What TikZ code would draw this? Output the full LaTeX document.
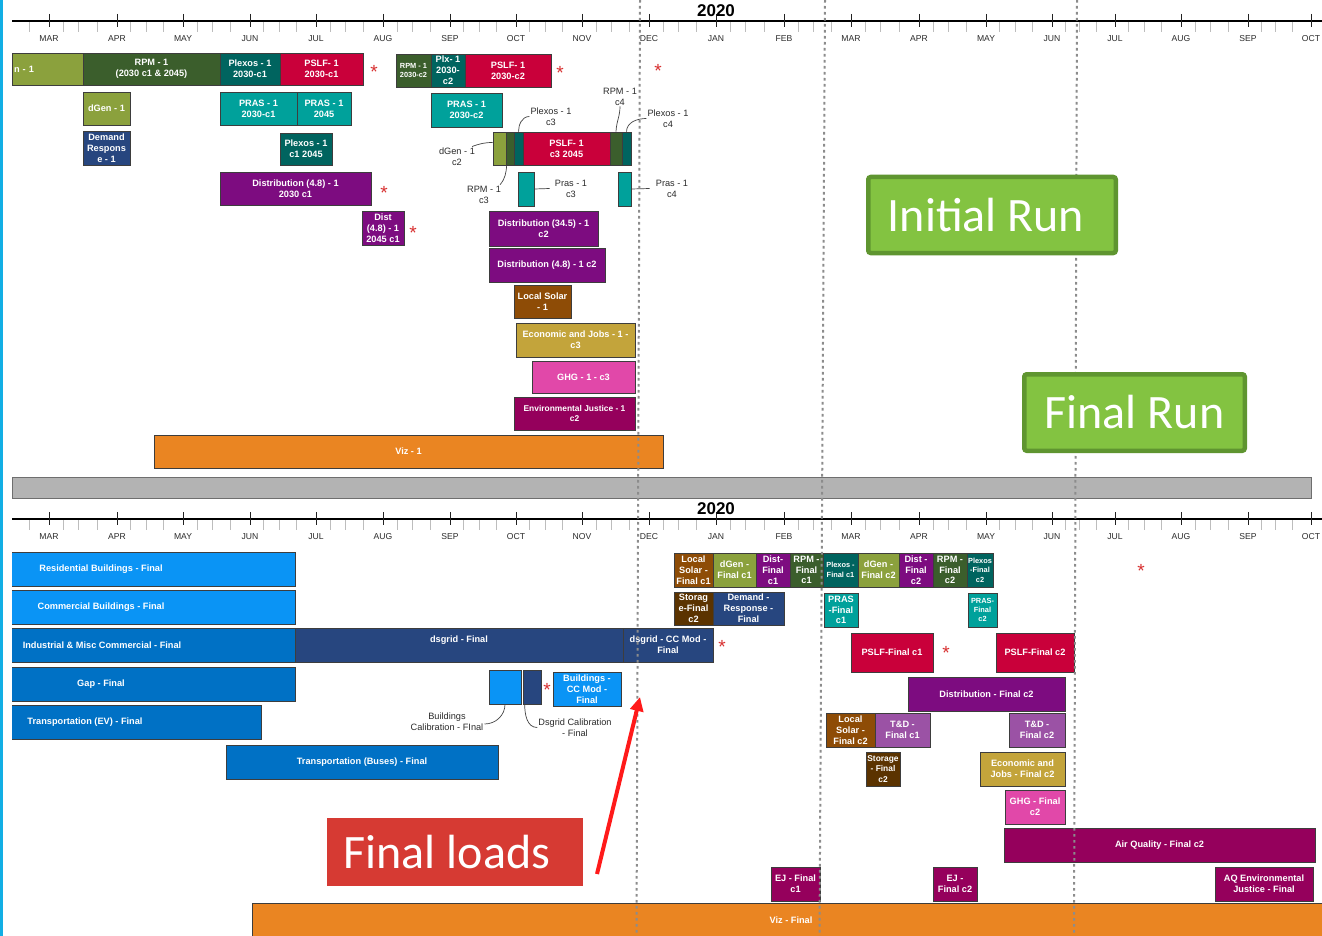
\documentclass[tikz,border=0pt]{standalone}
\usepackage{fontspec}
\setmainfont{Liberation Sans}
\newfontfamily\carl{Carlito}
\usetikzlibrary{arrows.meta,shadows}
\definecolor{cOlive}{HTML}{8BA13D}
\definecolor{cDkGreen}{HTML}{3B5E2C}
\definecolor{cDkTeal}{HTML}{00645F}
\definecolor{cTeal}{HTML}{00A19B}
\definecolor{cRed}{HTML}{C9003A}
\definecolor{cPurple}{HTML}{7D0C80}
\definecolor{cNavy}{HTML}{27467F}
\definecolor{cBrown}{HTML}{8E4C06}
\definecolor{cDkBrown}{HTML}{5B3300}
\definecolor{cGold}{HTML}{C3A43B}
\definecolor{cPink}{HTML}{E148A9}
\definecolor{cMag}{HTML}{95005C}
\definecolor{cLav}{HTML}{9B52A5}
\definecolor{cOrange}{HTML}{EA8522}
\definecolor{cBBlue}{HTML}{0A94F5}
\definecolor{cMBlue}{HTML}{0071C5}
\definecolor{cBand}{HTML}{B3B3B3}
\definecolor{cBandEdge}{HTML}{6E6E6E}
\definecolor{cRunFill}{HTML}{83C341}
\definecolor{cRunDraw}{HTML}{5F9530}
\definecolor{cLoads}{HTML}{D63A33}
\definecolor{cStar}{HTML}{D83030}
\definecolor{cCyan}{HTML}{12AEE4}
\definecolor{cDot}{HTML}{8C8C8C}
\definecolor{cEdge}{HTML}{3D3D3D}
\definecolor{cTxt}{HTML}{2B2B2B}
\definecolor{cLine}{HTML}{444444}
\definecolor{cTick}{HTML}{222222}
\definecolor{cMinTick}{HTML}{BDBDBD}
\definecolor{cArrow}{HTML}{FF1A1A}
\tikzset{
 tbox/.style={draw=cEdge,line width=0.6pt,inner sep=0.5pt,align=center,text=white,
   font=\bfseries\fontsize{9.2}{10.8}\selectfont,
   drop shadow={shadow xshift=0.8pt,shadow yshift=-1pt,opacity=0.3,fill=black}},
 sm/.style={font=\bfseries\fontsize{7.4}{9.4}\selectfont},
 smb/.style={font=\bfseries\fontsize{8.4}{10.4}\selectfont},
 clabel/.style={text=cTxt,font=\fontsize{9.2}{10.8}\selectfont,align=center,inner sep=1pt},
 cline/.style={draw=cLine,line width=0.7pt},
 rstar/.style={text=cStar,font=\fontsize{19}{19}\selectfont,inner sep=0pt,anchor=north},
 month/.style={text=cTxt,font=\fontsize{8.6}{10}\selectfont,inner sep=0pt},
 year/.style={font=\bfseries\fontsize{17}{17}\selectfont,inner sep=0pt},
 runbox/.style={fill=cRunFill,draw=cRunDraw,line width=4.5pt,rounded corners=2.5pt,text=white,
   font=\carl\fontsize{48}{50}\selectfont,inner sep=0pt},
 dotline/.style={draw=cDot,line width=2pt,dash pattern=on 2.6pt off 3.4pt},
 majtick/.style={draw=cTick,line width=0.9pt},
 mintick/.style={draw=cMinTick,line width=0.9pt},
}
\newcommand\ganttbox[8][]{\node[tbox,fill=#7,minimum width={(#5)-(#3)},minimum height={(#6)-(#4)},#1] (#2) at ({((#3)+(#5))/2},{-((#4)+(#6))/2}) {#8};}
\newcommand\redstar[3]{\node[rstar] (#1) at (#2,{-(#3)+2.8}) {*};}
\newcommand\mytimeline[2]{%
 \draw[line width=2.6pt] (12,{-21-#1}) -- (1322,{-21-#1});
 \foreach \a/\b in {49/117,117/183,183/250,250/316,316/383,383/450,450/516,516/582,582/649,649/716,716/784,784/851,851/919,919/986,986/1052,1052/1115,1115/1181,1181/1248,1248/1311}{
   \foreach \f in {0.21,0.44,0.71}{\draw[mintick] ({\a+\f*(\b-\a)},{-22-#1}) -- ++(0,-10);}}
 \draw[mintick] (29,{-22-#1}) -- ++(0,-10);
 \foreach \x/\m in {49/MAR,117/APR,183/MAY,250/JUN,316/JUL,383/AUG,450/SEP,516/OCT,582/NOV,649/DEC,716/JAN,784/FEB,851/MAR,919/APR,986/MAY,1052/JUN,1115/JUL,1181/AUG,1248/SEP,1311/OCT}{
   \draw[majtick] (\x,{-14-#1}) -- ++(0,-13);
   \node[month] (#2-\x) at (\x,{-39-#1}) {\m};}
}
\begin{document}
\begin{tikzpicture}[x=1pt,y=1pt]
\useasboundingbox (0,0) rectangle (1322,-936);
\fill[white] (0,0) rectangle (1322,-936);
\clip (0,0) rectangle (1322,-936);
\fill[cCyan] (0,0) rectangle (3,-936);

% timelines
\mytimeline{0}{mtop}
\mytimeline{498}{mbot}
\node[year] (yr1) at (716,-11) {2020};
\node[year] (yr2) at (716,-509) {2020};

\begin{scope}
\clip (12,1) rectangle (1330,-940);
% ---------- initial run ----------
\ganttbox[text width=67pt,align=left,inner xsep=2pt]{t01}{12}{53}{83}{85}{cOlive}{n - 1}
\ganttbox{t02}{83}{53}{220}{85}{cDkGreen}{RPM - 1\\(2030 c1 \& 2045)}
\ganttbox{t03}{220}{53}{280}{85}{cDkTeal}{Plexos - 1\\2030-c1}
\ganttbox{t04}{280}{53}{363}{85}{cRed}{PSLF- 1\\2030-c1}
\ganttbox[sm]{t05}{396}{54}{431}{87}{cDkGreen}{RPM - 1\\2030-c2}
\ganttbox{t06}{431}{54}{465}{87}{cDkTeal}{Plx- 1\\2030-\\c2}
\ganttbox{t07}{465}{54}{551}{87}{cRed}{PSLF- 1\\2030-c2}
\ganttbox{t08}{83}{92}{130}{125}{cOlive}{dGen - 1}
\ganttbox{t09}{220}{92}{297}{125}{cTeal}{PRAS - 1\\2030-c1}
\ganttbox{t10}{297}{92}{351}{125}{cTeal}{PRAS - 1\\2045}
\ganttbox{t11}{431}{93}{502}{127}{cTeal}{PRAS - 1\\2030-c2}
\ganttbox{t12}{83}{131}{130}{165}{cNavy}{Demand\\Respons\\e - 1}
\ganttbox{t13}{280}{133}{332}{165}{cDkTeal}{Plexos - 1\\c1 2045}
\ganttbox{c1}{493}{132}{506}{165}{cOlive}{}
\ganttbox{c2}{506}{132}{514}{165}{cDkGreen}{}
\ganttbox{c3}{514}{132}{523}{165}{cDkTeal}{}
\ganttbox{c4}{523}{132}{610}{165}{cRed}{PSLF- 1\\c3 2045}
\ganttbox{c5}{610}{132}{622}{165}{cDkGreen}{}
\ganttbox{c6}{622}{132}{631}{165}{cDkTeal}{}
\ganttbox{t14}{220}{172}{371}{205}{cPurple}{Distribution (4.8) - 1\\2030 c1}
\ganttbox{p3}{518}{172}{534}{206}{cTeal}{}
\ganttbox{p4}{618}{172}{631}{206}{cTeal}{}
\ganttbox{t15}{362}{211}{404}{245}{cPurple}{Dist\\(4.8) - 1\\2045 c1}
\ganttbox{t16}{489}{211}{598}{246}{cPurple}{Distribution (34.5) - 1\\c2}
\ganttbox{t17}{489}{248}{605}{282}{cPurple}{Distribution (4.8) - 1 c2}
\ganttbox{t18}{514}{285}{571}{318}{cBrown}{Local Solar\\- 1}
\ganttbox{t19}{516}{323}{635}{357}{cGold}{Economic and Jobs - 1 -\\c3}
\ganttbox{t20}{532}{361}{635}{393}{cPink}{GHG - 1 - c3}
\ganttbox[smb]{t21}{514}{397}{635}{430}{cMag}{Environmental Justice - 1\\c2}
\ganttbox{t22}{154}{435}{663}{468}{cOrange}{Viz - 1}
% ---------- final run ----------
\ganttbox{b01}{-93}{552}{295}{586}{cBBlue}{Residential Buildings - Final}
\ganttbox{b02}{-93}{590}{295}{624}{cBBlue}{Commercial Buildings - Final}
\ganttbox{b03}{-91}{628}{295}{662}{cMBlue}{Industrial \& Misc Commercial - Final}
\ganttbox{b04}{295}{628}{623}{662}{cNavy}{dsgrid - Final\\\mbox{}}
\ganttbox{b05}{623}{628}{713}{662}{cNavy}{dsgrid - CC Mod -\\Final}
\ganttbox{b06}{-93}{667}{295}{701}{cMBlue}{Gap - Final}
\ganttbox{b07}{-91}{705}{261}{739}{cMBlue}{Transportation (EV) - Final}
\ganttbox{b08}{226}{745}{498}{779}{cMBlue}{Transportation (Buses) - Final}
\ganttbox{b09}{489}{670}{521}{704}{cBBlue}{}
\ganttbox{b10}{523}{670}{541}{704}{cNavy}{}
\ganttbox{b11}{553}{672}{621}{706}{cBBlue}{Buildings -\\CC Mod -\\Final}
\ganttbox{b12}{674}{553}{713}{587}{cBrown}{Local\\Solar -\\Final c1}
\ganttbox{b13}{713}{553}{756}{587}{cOlive}{dGen -\\Final c1}
\ganttbox{b14}{756}{553}{790}{587}{cPurple}{Dist-\\Final\\c1}
\ganttbox{b15}{790}{553}{823}{587}{cDkGreen}{RPM -\\Final\\c1}
\ganttbox[sm]{b16}{823}{553}{858}{587}{cDkTeal}{Plexos -\\Final c1}
\ganttbox{b17}{858}{553}{899}{587}{cOlive}{dGen -\\Final c2}
\ganttbox{b18}{899}{553}{933}{587}{cPurple}{Dist -\\Final\\c2}
\ganttbox{b19}{933}{553}{967}{587}{cDkGreen}{RPM -\\Final\\c2}
\ganttbox[sm]{b20}{967}{553}{993}{587}{cDkTeal}{Plexos\\-Final\\c2}
\ganttbox{b21}{674}{592}{713}{625}{cDkBrown}{Storag\\e-Final\\c2}
\ganttbox{b22}{713}{592}{784}{625}{cNavy}{Demand -\\Response -\\Final}
\ganttbox{b23}{824}{593}{858}{627}{cTeal}{PRAS\\-Final\\c1}
\ganttbox[sm]{b24}{968}{593}{997}{627}{cTeal}{PRAS-\\Final\\c2}
\ganttbox{b25}{851}{633}{933}{672}{cRed}{PSLF-Final c1}
\ganttbox{b26}{996}{633}{1074}{672}{cRed}{PSLF-Final c2}
\ganttbox{b27}{908}{677}{1065}{711}{cPurple}{Distribution - Final c2}
\ganttbox{b28}{826}{713}{875}{747}{cBrown}{Local\\Solar -\\Final c2}
\ganttbox{b29}{875}{713}{930}{747}{cLav}{T\&D -\\Final c1}
\ganttbox{b30}{1009}{713}{1065}{747}{cLav}{T\&D -\\Final c2}
\ganttbox[smb]{b31}{866}{752}{900}{786}{cDkBrown}{Storage\\- Final\\c2}
\ganttbox{b32}{980}{752}{1065}{786}{cGold}{Economic and\\Jobs - Final c2}
\ganttbox{b33}{1005}{790}{1065}{824}{cPink}{GHG - Final\\c2}
\ganttbox{b34}{1004}{828}{1315}{862}{cMag}{Air Quality - Final c2}
\ganttbox{b35}{771}{867}{820}{901}{cMag}{EJ - Final\\c1}
\ganttbox{b36}{933}{867}{977}{901}{cMag}{EJ -\\Final c2}
\ganttbox{b37}{1215}{867}{1313}{901}{cMag}{AQ Environmental\\Justice - Final}
\ganttbox{b38}{252}{903}{1330}{937}{cOrange}{Viz - Final}
\end{scope}

% separator band
\node[draw=cBandEdge,fill=cBand,line width=0.8pt,minimum width=1299,minimum height=21,inner sep=0pt] (gband) at (661.5,-487.5) {};

% callout labels
\node[clabel] (lplx3) at (551,-116.5) {Plexos - 1\\c3};
\node[clabel] (lrpm4) at (620,-96.5) {RPM - 1\\c4};
\node[clabel] (lplx4) at (668,-118.5) {Plexos - 1\\c4};
\node[clabel] (ldgen2) at (457,-156.5) {dGen - 1\\c2};
\node[clabel] (lrpm3) at (484,-194.5) {RPM - 1\\c3};
\node[clabel] (lpras3) at (571,-188.5) {Pras - 1\\c3};
\node[clabel] (lpras4) at (672,-188.5) {Pras - 1\\c4};
\node[clabel] (lbcal) at (447,-722) {Buildings\\Calibration - FInal};
\node[clabel] (ldcal) at (575,-727.5) {Dsgrid Calibration\\- Final};

\draw[cline] (c3.north) to[out=90,in=180] (lplx3.west);
\draw[cline] (c5.north) to[out=88,in=-90] (lrpm4.south);
\draw[cline] (c6.north) to[out=90,in=180] (lplx4.west);
\draw[cline] ([xshift=-4pt]ldgen2.north east) to[out=20,in=180] ([yshift=6pt]c1.west);
\draw[cline] ([xshift=1pt]c2.south west) to[out=-95,in=50] ([xshift=-2pt]lrpm3.north east);
\draw[cline] (p3.east) -- ([xshift=-4pt]lpras3.west);
\draw[cline] (p4.east) -- ([xshift=-5pt]lpras4.west);
\draw[cline] (b09.south) to[out=-90,in=0] ([yshift=-2pt]lbcal.east);
\draw[cline] ([xshift=2pt]b10.south west) to[out=-90,in=180] (ldcal.west);

% stars
\redstar{s1}{374}{68}
\redstar{s2}{560}{69}
\redstar{s3}{658}{67}
\redstar{s4}{384}{189}
\redstar{s5}{413}{229}
\redstar{s6}{722}{643}
\redstar{s7}{547}{686}
\redstar{s8}{946}{649}
\redstar{s9}{1141}{567}

% dotted separators
\coordinate (d1t) at (640,0);   \coordinate (d1b) at (636.5,-936);
\coordinate (d2t) at (825,0);   \coordinate (d2b) at (819.5,-936);
\coordinate (d3t) at (1077,0);  \coordinate (d3b) at (1074,-936);
\draw[dotline] (d1t) -- (d1b);
\draw[dotline] (d2t) -- (d2b);
\draw[dotline] (d3t) -- (d3b);

% run labels
\node[runbox,minimum width=247.5,minimum height=76] (initrun) at (992,-215) {Initial Run\hspace*{12pt}};
\node[runbox,minimum width=220.5,minimum height=76.5] (finalrun) at (1134.5,-412.5) {Final Run};

% final loads
\node[fill=cLoads,minimum width=256,minimum height=68,inner sep=0pt,text=white,font=\carl\fontsize{48}{50}\selectfont] (loads) at (455,-852) {Final loads\hspace*{16pt}};
\coordinate (arrS) at (597,-874);
\coordinate (arrE) at (640,-697);
\draw[draw=cArrow,line width=4pt,-{Triangle[length=14pt,width=13pt]}] (arrS) -- (arrE);
\end{tikzpicture}
\end{document}
